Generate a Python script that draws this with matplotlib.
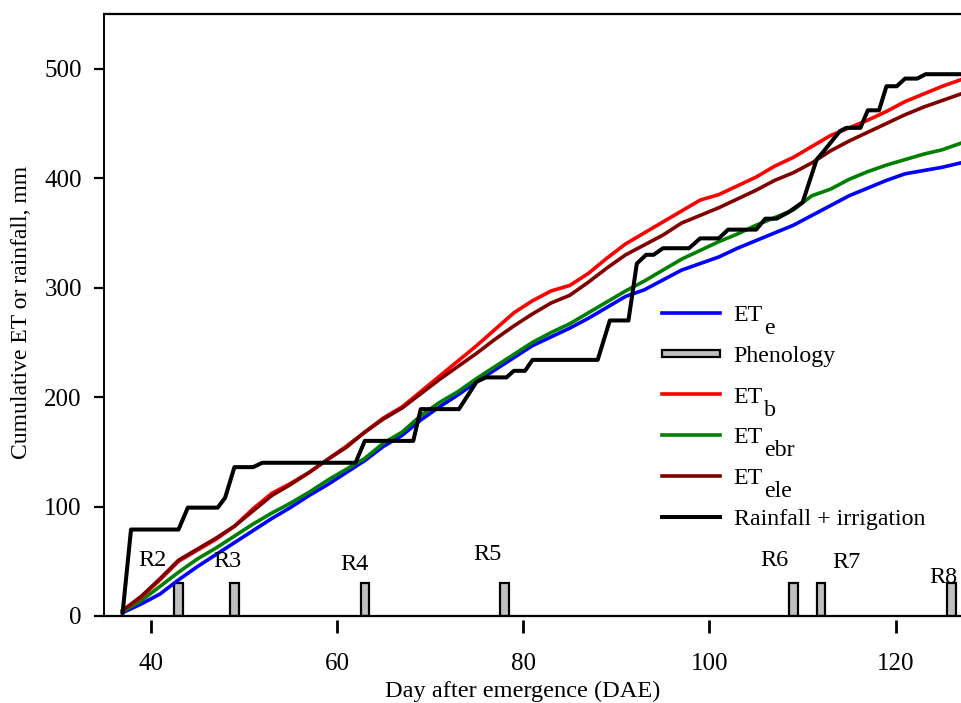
import matplotlib
matplotlib.use("Agg")
import matplotlib.pyplot as plt
from matplotlib.patches import Rectangle
from matplotlib.lines import Line2D
from matplotlib.legend_handler import HandlerPatch

plt.rcParams['font.family'] = ['Liberation Serif', 'DejaVu Serif']

# ---- data ----
days = [37, 39, 41, 43, 45, 47, 49, 51, 53, 55, 57, 59, 61, 63, 65, 67, 69, 71, 73, 75,
        77, 79, 81, 83, 85, 87, 89, 91, 93, 95, 97, 99, 101, 103, 105, 107, 109, 111,
        113, 115, 117, 119, 121, 123, 125, 127]
et_e = [3, 11, 20, 33, 45, 56, 67, 78, 89, 99, 110, 120, 131, 142, 155, 165, 179, 191,
        202, 214, 225, 236, 247, 255, 263, 272, 282, 292, 298, 307, 316, 322, 328, 336,
        343, 350, 357, 366, 375, 384, 391, 398, 404, 407, 410, 414]
et_b = [5, 17, 33, 50, 60, 70, 82, 98, 112, 121, 131, 143, 155, 168, 181, 191, 205, 219,
        233, 247, 262, 277, 288, 297, 302, 313, 327, 340, 350, 360, 370, 380, 385, 393,
        401, 411, 419, 429, 439, 446, 453, 461, 470, 477, 484, 490]
et_ebr = [4, 14, 27, 40, 52, 62, 73, 84, 94, 103, 113, 124, 134, 144, 158, 168, 183, 195,
          205, 217, 228, 239, 250, 259, 267, 277, 287, 297, 306, 316, 326, 334, 342, 349,
          357, 364, 371, 384, 390, 399, 406, 412, 417, 422, 426, 432]
et_ele = [5, 18, 34, 51, 61, 71, 82, 96, 110, 120, 131, 143, 154, 168, 180, 190, 203, 216,
          228, 240, 253, 265, 276, 286, 293, 305, 318, 330, 339, 348, 359, 366, 373, 381,
          389, 398, 405, 414, 425, 434, 442, 450, 458, 465, 471, 477]

rain_days = [37, 37.9, 43, 44, 47.2, 48, 49, 51, 52, 62, 63, 68.2, 69, 73.1, 75, 76, 78.2,
             79, 80.2, 81, 88, 89.3, 91.3, 92.2, 93.2, 94, 95, 97.8, 99, 101, 102, 105,
             106, 107.2, 108.5, 110, 111.5, 112.2, 114, 114.7, 116.2, 117, 118.2, 119,
             120.1, 121, 122.3, 123.2, 127]
rain = [3, 79, 79, 99, 99, 108, 136, 136, 140, 140, 160, 160, 189, 189, 214, 218, 218,
        224, 224, 234, 234, 270, 270, 322, 330, 330, 336, 336, 345, 345, 353, 353,
        363, 363, 369, 378, 417, 424, 443, 446, 446, 462, 462, 484, 484, 491, 491, 495, 495]

stages = ['R2', 'R3', 'R4', 'R5', 'R6', 'R7', 'R8']
stage_days = [43, 49, 63, 78, 109, 112, 126]
stage_height = [30, 30, 30, 30, 30, 30, 30]
label_x = [40.2, 48.2, 61.9, 76.2, 107.0, 114.7, 125.1]
label_y = [51, 50, 47, 56, 51, 49, 35]

legend_main = ['ET', 'Phenology', 'ET', 'ET', 'ET', 'Rainfall + irrigation']
legend_sub = ['e', '', 'b', 'ebr', 'ele', '']

# ---- figure ----
fig = plt.figure(figsize=(9.61, 7.03), dpi=100)
ax = fig.add_axes([104 / 961, 87 / 703, 857 / 961, 602 / 703])

ax.bar(stage_days, stage_height, width=0.9, color='#c0c0c0', edgecolor='black',
       linewidth=1.6, zorder=2)
for s, x, y in zip(stages, label_x, label_y):
    ax.text(x, y, s, fontsize=17.5, ha='center', va='center', zorder=6)

ax.plot(days, et_e, color='#0000ff', lw=2.6, zorder=3)
ax.plot(days, et_ebr, color='#008000', lw=2.6, zorder=3)
ax.plot(days, et_b, color='#ff0000', lw=2.6, zorder=3)
ax.plot(days, et_ele, color='#800000', lw=2.6, zorder=3)
ax.plot(rain_days, rain, color='black', lw=2.9, zorder=4)

ax.set_xlim(35, 127)
ax.set_ylim(0, 550)
ax.set_xticks([40, 60, 80, 100, 120])
ax.set_yticks([0, 100, 200, 300, 400, 500])

ax.spines['right'].set_visible(False)
ax.spines['bottom'].set_position(('outward', 3))
ax.spines['bottom'].set_visible(False)
ax.axhline(0, color='black', lw=1.6, zorder=5, clip_on=False)
ax.spines['left'].set_linewidth(1.4)
ax.spines['top'].set_linewidth(1.6)

ax.tick_params(axis='x', direction='out', length=9, width=2, labelsize=18, pad=15)
ax.tick_params(axis='y', direction='out', length=7, width=1.6, labelsize=18, pad=9)

ax.set_xlabel('Day after emergence (DAE)', fontsize=17.6)
ax.set_ylabel('Cumulative ET or rainfall, mm', fontsize=17)
ax.xaxis.set_label_coords(0.489, -0.108)
ax.yaxis.set_label_coords(-0.084, 0.505)


def make_bar(legend, orig_handle, xdescent, ydescent, width, height, fontsize):
    h = height * 0.4
    return Rectangle((-xdescent, -ydescent + (height - h) / 2), width, h)


handles = [
    Line2D([], [], color='#0000ff', lw=2.6),
    Rectangle((0, 0), 1, 1, facecolor='#c0c0c0', edgecolor='black', linewidth=1.6),
    Line2D([], [], color='#ff0000', lw=2.6),
    Line2D([], [], color='#008000', lw=2.6),
    Line2D([], [], color='#800000', lw=2.6),
    Line2D([], [], color='black', lw=2.9),
]
leg = ax.legend(handles, legend_main, loc='upper left', bbox_to_anchor=(0.651, 0.518),
                frameon=False, fontsize=17.2, handlelength=2.45, handletextpad=0.55,
                borderpad=0, borderaxespad=0, labelspacing=0.8,
                handler_map={Rectangle: HandlerPatch(patch_func=make_bar)})

# full-size, lowered subscripts next to the "ET" legend entries
fig.canvas.draw()
for txt, sub in zip(leg.get_texts(), legend_sub):
    if not sub:
        continue
    bb = txt.get_window_extent()
    x0, y0 = txt.get_transform().transform(txt.get_position())
    fig.text((bb.x1 + 1) / fig.bbox.width, (y0 - 13) / fig.bbox.height, sub,
             fontsize=17.2, ha='left', va='baseline')

fig.savefig('out.png', dpi=100)
